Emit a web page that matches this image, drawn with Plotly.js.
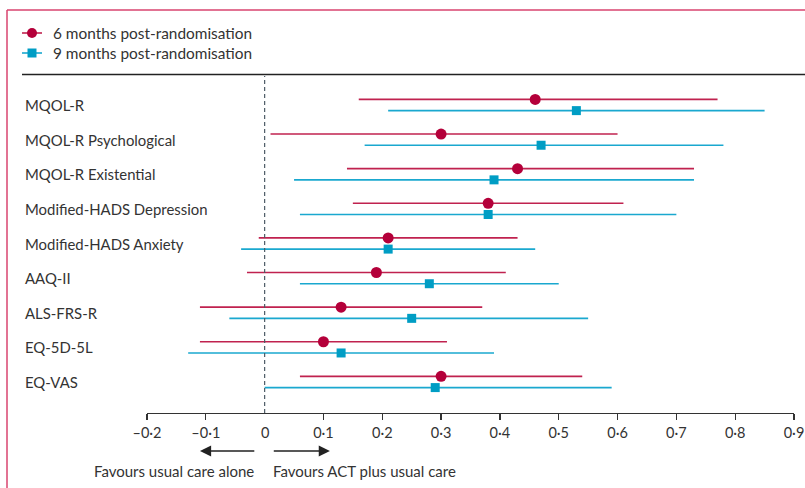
<!DOCTYPE html>
<html>
<head>
<meta charset="utf-8">
<script src="https://cdn.plot.ly/plotly-3.0.1.min.js"></script>
<style>html,body{margin:0;padding:0;background:#fff;}#chart{width:805px;height:488px;}</style>
</head>
<body>
<div id="chart"></div>
<script>
// ---- data ----
const categories = ["MQOL-R", "MQOL-R Psychological", "MQOL-R Existential", "Modified-HADS Depression",
  "Modified-HADS Anxiety", "AAQ-II", "ALS-FRS-R", "EQ-5D-5L", "EQ-VAS"];
const est6 = [0.46, 0.30, 0.43, 0.38, 0.21, 0.19, 0.13, 0.10, 0.30];
const lo6  = [0.16, 0.01, 0.14, 0.15, -0.01, -0.03, -0.11, -0.11, 0.06];
const hi6  = [0.77, 0.60, 0.73, 0.61, 0.43, 0.41, 0.37, 0.31, 0.54];
const est9 = [0.53, 0.47, 0.39, 0.38, 0.21, 0.28, 0.25, 0.13, 0.29];
const lo9  = [0.21, 0.17, 0.05, 0.06, -0.04, 0.06, -0.06, -0.13, 0.00];
const hi9  = [0.85, 0.78, 0.73, 0.70, 0.46, 0.50, 0.55, 0.39, 0.59];
const seriesNames = ["6 months post-randomisation", "9 months post-randomisation"];
const tickVals = [-0.2, -0.1, 0.1, 0.2, 0.3, 0.4, 0.5, 0.6, 0.7, 0.8, 0.9];
const tickText = ["–0·2", "–0·1", "0·1", "0·2", "0·3", "0·4", "0·5", "0·6", "0·7", "0·8", "0·9"];
const zeroLabel = "0";
const arrowLabels = ["Favours usual care alone", "Favours ACT plus usual care"];

// ---- styling / layout ----
const W = 805, H = 488, L = 147, R = 11, T = 76, B = 75;
const PW = W - L - R, PH = H - T - B;
const px = x => (x - L) / PW;          // pixel -> paper x
const py = y => (H - B - y) / PH;      // pixel -> paper y
const RED = '#b4003a', REDL = '#c0224f', CYAN = '#009dc4', CYANL = '#1aa8cf';
const TXT = '#333333';
const FONT = 'Lato, "Open Sans", sans-serif';
const off = 0.162;

const idx = categories.map((_, i) => i);
const traces = [
  {x: est6, y: idx.map(i => i - off), type: 'scatter', mode: 'markers', showlegend: false,
   marker: {symbol: 'circle', size: 11, color: RED},
   error_x: {type: 'data', symmetric: false, array: hi6.map((h, i) => h - est6[i]),
     arrayminus: lo6.map((l, i) => est6[i] - l), color: REDL, thickness: 1.6, width: 0},
   name: seriesNames[0], hoverinfo: 'skip'},
  {x: est9, y: idx.map(i => i + off), type: 'scatter', mode: 'markers', showlegend: false,
   marker: {symbol: 'square', size: 9, color: CYAN},
   error_x: {type: 'data', symmetric: false, array: hi9.map((h, i) => h - est9[i]),
     arrayminus: lo9.map((l, i) => est9[i] - l), color: CYANL, thickness: 1.6, width: 0},
   name: seriesNames[1], hoverinfo: 'skip'}
];

const shapes = [
  // pink frame
  {type: 'line', xref: 'paper', yref: 'paper', x0: px(7), x1: px(7), y0: py(10), y1: py(520), line: {color: '#d8456f', width: 1.5}},
  {type: 'line', xref: 'paper', yref: 'paper', x0: px(7), x1: px(830), y0: py(10), y1: py(10), line: {color: '#d8456f', width: 1.5}},
  // header rule
  {type: 'line', xref: 'paper', yref: 'paper', x0: px(22), x1: px(830), y0: py(74.5), y1: py(74.5), line: {color: '#222', width: 1.6}},
  // zero line
  {type: 'line', xref: 'x', yref: 'paper', x0: 0, x1: 0, y0: 0, y1: 1, line: {color: '#4d5b66', width: 1.2, dash: '4px,3px'}},
  // legend glyph lines
  {type: 'line', xref: 'paper', yref: 'paper', x0: px(22), x1: px(42), y0: py(33), y1: py(33), line: {color: REDL, width: 1.6}},
  {type: 'line', xref: 'paper', yref: 'paper', x0: px(22), x1: px(42), y0: py(53), y1: py(53), line: {color: CYANL, width: 1.6}},
  {type: 'circle', xref: 'paper', yref: 'paper', xsizemode: 'pixel', ysizemode: 'pixel',
   xanchor: px(32), yanchor: py(33), x0: -5, x1: 5, y0: -5, y1: 5, fillcolor: RED, line: {width: 0}},
  {type: 'rect', xref: 'paper', yref: 'paper', xsizemode: 'pixel', ysizemode: 'pixel',
   xanchor: px(32), yanchor: py(53), x0: -4.5, x1: 4.5, y0: -4.5, y1: 4.5, fillcolor: CYAN, line: {width: 0}}
];

const annotations = [];
categories.forEach((c, i) => annotations.push({
  text: c, xref: 'paper', yref: 'y', x: px(22.5), y: i, xanchor: 'left', yanchor: 'middle',
  showarrow: false, font: {size: 14.9, color: TXT, family: FONT}
}));
annotations.push({text: seriesNames[0], xref: 'paper', yref: 'paper', x: px(50.5), y: py(33),
  xanchor: 'left', yanchor: 'middle', showarrow: false, font: {size: 15.4, color: TXT, family: FONT}});
annotations.push({text: seriesNames[1], xref: 'paper', yref: 'paper', x: px(50.5), y: py(53),
  xanchor: 'left', yanchor: 'middle', showarrow: false, font: {size: 15.4, color: TXT, family: FONT}});
annotations.push({text: zeroLabel, xref: 'x', yref: 'paper', x: 0, y: py(432),
  xanchor: 'center', yanchor: 'middle', showarrow: false, font: {size: 14.5, color: TXT, family: FONT}});
// arrows
annotations.push({text: '', xref: 'x', yref: 'paper', x: -0.11, y: py(451), axref: 'x', ax: -0.015, ayref: 'pixel', ay: 0,
  showarrow: true, arrowhead: 2, arrowsize: 1.4, arrowwidth: 1.6, arrowcolor: '#222', standoff: 0, startstandoff: 0});
annotations.push({text: '', xref: 'x', yref: 'paper', x: 0.111, y: py(451), axref: 'x', ax: 0.013, ayref: 'pixel', ay: 0,
  showarrow: true, arrowhead: 2, arrowsize: 1.4, arrowwidth: 1.6, arrowcolor: '#222', standoff: 0, startstandoff: 0});
annotations.push({text: arrowLabels[0], xref: 'paper', yref: 'paper', x: px(256), y: py(471),
  xanchor: 'right', yanchor: 'middle', showarrow: false, font: {size: 15, color: TXT, family: FONT}});
annotations.push({text: arrowLabels[1], xref: 'paper', yref: 'paper', x: px(270.5), y: py(471),
  xanchor: 'left', yanchor: 'middle', showarrow: false, font: {size: 15, color: TXT, family: FONT}});

const layout = {
  width: W, height: H,
  margin: {l: L, r: R, t: T, b: B, pad: 0},
  paper_bgcolor: '#fff', plot_bgcolor: 'rgba(0,0,0,0)',
  font: {family: FONT, size: 14, color: TXT},
  showlegend: false,
  xaxis: {range: [-0.2, 0.9], tickvals: tickVals, ticktext: tickText, ticks: 'outside', ticklen: 6,
    tickwidth: 1.3, tickcolor: '#333', showline: true, linecolor: '#333', linewidth: 1.4,
    showgrid: false, zeroline: false, fixedrange: true, tickfont: {size: 14.5, color: TXT, family: FONT}},
  yaxis: {range: [8.896, -0.838], showticklabels: false, showgrid: false, zeroline: false,
    showline: false, ticks: '', fixedrange: true},
  shapes: shapes, annotations: annotations
};

Plotly.newPlot('chart', traces, layout, {displayModeBar: false, staticPlot: true});
</script>
</body>
</html>
